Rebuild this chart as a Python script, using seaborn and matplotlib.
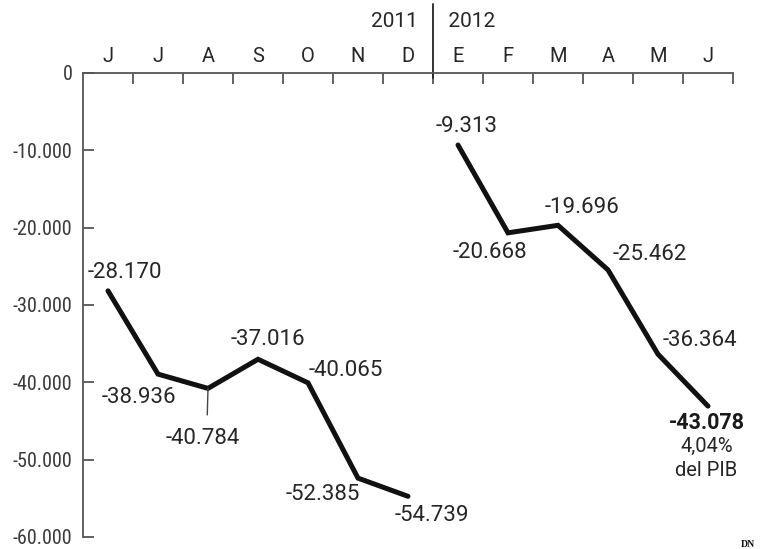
import numpy as np
import pandas as pd
import seaborn as sns
import matplotlib.pyplot as plt

sns.set_theme(style="white")
plt.rcParams['font.family'] = ['Roboto', 'DejaVu Sans']

months = ['J', 'J', 'A', 'S', 'O', 'N', 'D', 'E', 'F', 'M', 'A', 'M', 'J']
vals_2011 = [-28170, -38936, -40784, -37016, -40065, -52385, -54739]
vals_2012 = [-9313, -20668, -19696, -25462, -36364, -43078]
labels_2011 = ['-28.170', '-38.936', '-40.784', '-37.016', '-40.065', '-52.385', '-54.739']
labels_2012 = ['-9.313', '-20.668', '-19.696', '-25.462', '-36.364', '-43.078']
yticks = [0, -10000, -20000, -30000, -40000, -50000, -60000]
ytick_labels = ['0', '-10.000', '-20.000', '-30.000', '-40.000', '-50.000', '-60.000']

df = pd.DataFrame({
    'pos': list(range(13)),
    'saldo': vals_2011 + vals_2012,
    'label': labels_2011 + labels_2012,
    'year': ['2011'] * 7 + ['2012'] * 6,
})

# label offsets in points (dx, dy)
offsets = [(12, 13), (-14, -17), (-4, -36), (7, 14), (27, 9), (-25, -12), (17, -14),
           (6, 13), (-13, -14), (17, 13), (30, 11), (30, 10), (-1, -12)]

ink = '#262626'
axc = '#555555'

fig = plt.figure(figsize=(7.68, 5.49), dpi=100)
ax = fig.add_axes([83 / 768, 1 - 537 / 549, 650 / 768, 464 / 549])

for yr in ['2011', '2012']:
    sns.lineplot(data=df[df.year == yr], x='pos', y='saldo', color='#111111',
                 lw=3.6, ax=ax, legend=False, solid_joinstyle='miter')

ax.set_xlim(-0.5, 12.5)
ax.set_ylim(-60000, 0)
ax.set_xlabel('')
ax.set_ylabel('')

for s in ['bottom', 'right']:
    ax.spines[s].set_visible(False)
for s in ['top', 'left']:
    ax.spines[s].set_color(axc)
    ax.spines[s].set_linewidth(1.3)

ax.xaxis.tick_top()
ax.set_xticks(np.arange(0.5, 13, 1))
ax.set_xticklabels([])
ax.set_xticks(range(13), minor=True)
ax.set_xticklabels(months, minor=True)
ax.tick_params(axis='x', which='major', direction='in', length=8, width=1.3,
               color=axc, top=True, bottom=False)
ax.tick_params(axis='x', which='minor', length=0, pad=5, labelsize=14.5,
               labelcolor=ink, top=True, bottom=False, labeltop=True, labelbottom=False)

ax.set_yticks(yticks)
ax.set_yticklabels(ytick_labels)
ax.tick_params(axis='y', direction='in', length=8, width=1.3, color=axc,
               pad=7.5, labelsize=14.5, labelcolor='#3a3a3a', left=True)
for t in ax.get_yticklabels():
    t.set_family(['Roboto Condensed', 'Liberation Sans Narrow', 'DejaVu Sans'])
    t.set_fontstretch('condensed')

# year divider
trans = ax.get_xaxis_transform()
ax.plot([6.5, 6.5], [0.99, 1.148], color='#222222', lw=1.3, transform=trans, clip_on=False)
ax.text(6.5, 1.11, '2011   ', ha='right', va='center', fontsize=15, color=ink,
        transform=trans)
ax.text(6.5, 1.11, '   2012', ha='left', va='center', fontsize=15, color=ink,
        transform=trans)

for i, row in df.iterrows():
    dx, dy = offsets[i]
    if i == 2:
        ax.annotate(row.label, (row.pos, row.saldo), xytext=(dx, dy), textcoords='offset points',
                    ha='center', va='center', fontsize=16, color=ink,
                    arrowprops=dict(arrowstyle='-', color='#444444', lw=1,
                                    shrinkA=7, shrinkB=0, relpos=(0.56, 1)))
    elif i == 12:
        ax.annotate(row.label, (row.pos, row.saldo), xytext=(dx, dy), textcoords='offset points',
                    ha='center', va='center', fontsize=15.5, color='#1a1a1a', fontweight='bold')
        ax.annotate('4,04%', (row.pos, row.saldo), xytext=(dx, dy - 17), textcoords='offset points',
                    ha='center', va='center', fontsize=14.5, color=ink)
        ax.annotate('del PIB', (row.pos, row.saldo), xytext=(dx, dy - 34), textcoords='offset points',
                    ha='center', va='center', fontsize=14.5, color=ink)
    else:
        ax.annotate(row.label, (row.pos, row.saldo), xytext=(dx, dy), textcoords='offset points',
                    ha='center', va='center', fontsize=16, color=ink)

fig.text(748 / 768, 1 - 540 / 549, 'DN', ha='center', va='top', fontsize=7,
         fontweight='bold', family='Liberation Serif', color='#111111')

fig.savefig('out.png', dpi=100)
